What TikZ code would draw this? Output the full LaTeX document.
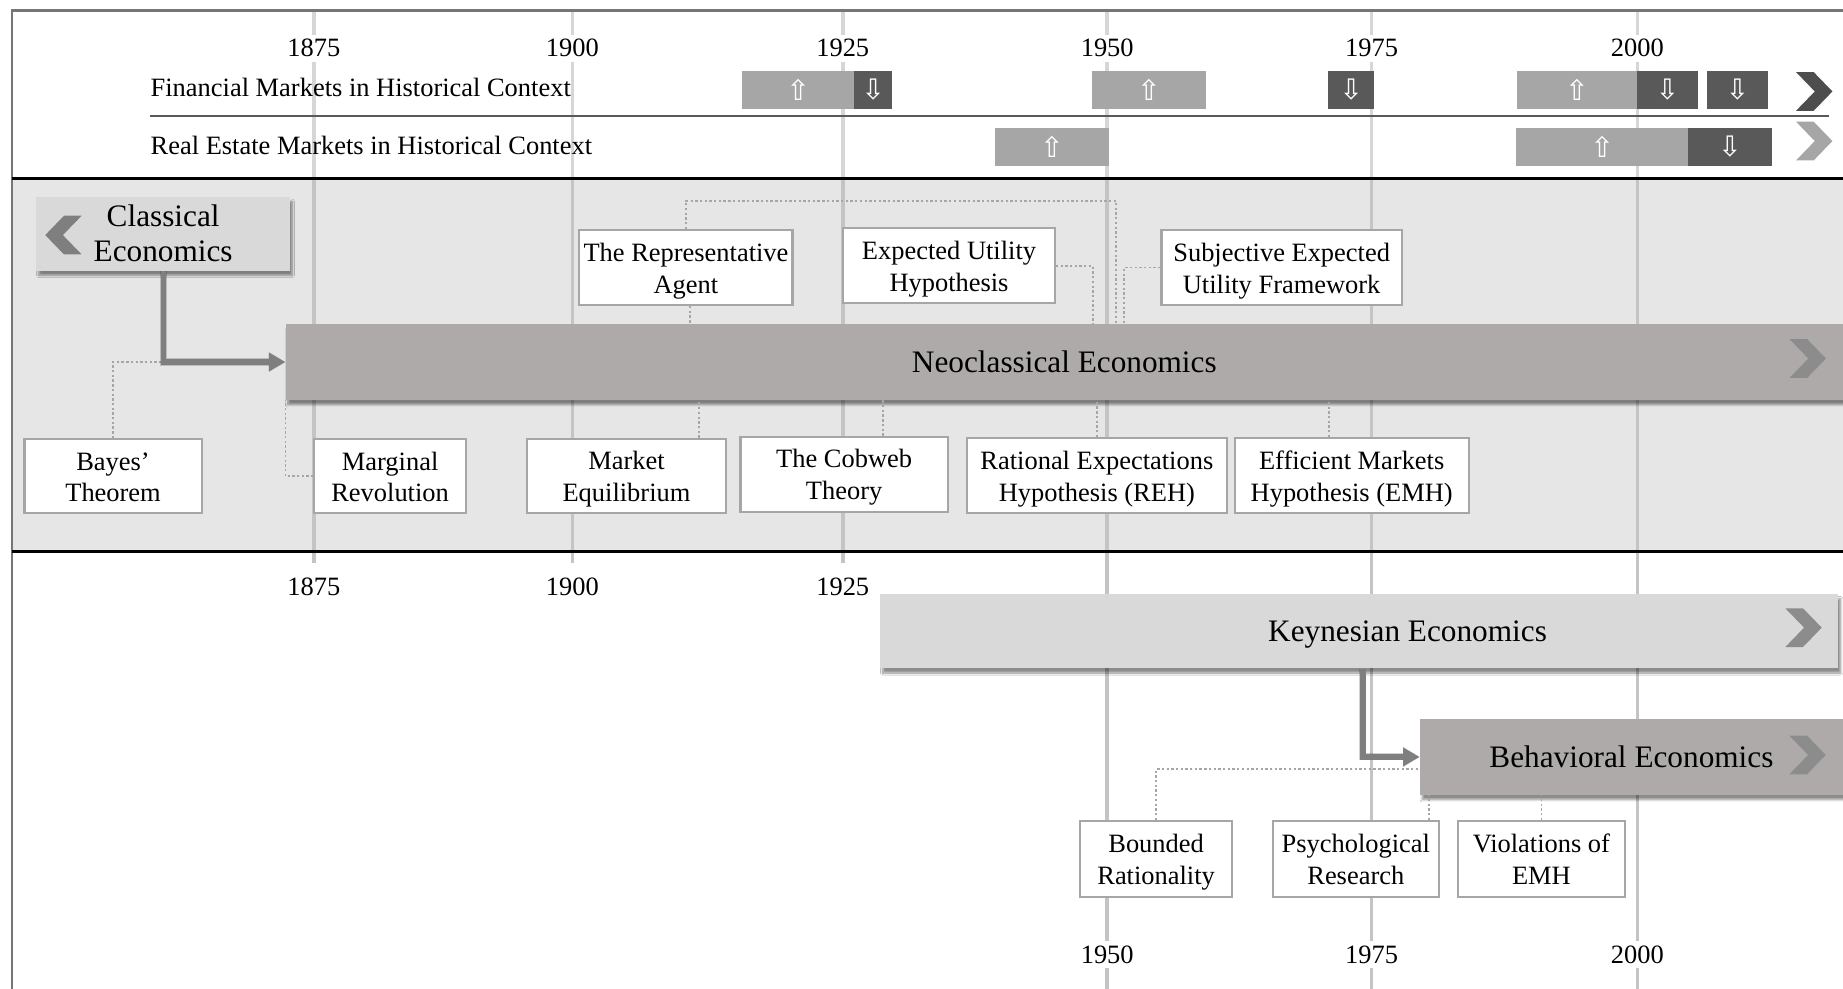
\documentclass[tikz,border=0pt]{standalone}
\usepackage{fontspec}
\setmainfont{Liberation Serif}
\newfontfamily\symfont{DejaVu Sans}
\usetikzlibrary{shadows.blur,arrows.meta}

\definecolor{bandgray}{HTML}{E7E6E6}
\definecolor{neogray}{HTML}{AEAAAA}
\definecolor{lightbox}{HTML}{D9D9D9}
\definecolor{uppart}{HTML}{A6A6A6}
\definecolor{downpart}{HTML}{595959}
\definecolor{edgegray}{HTML}{A6A6A6}
\definecolor{gridtop}{HTML}{D6D6D6}
\definecolor{gridmid}{HTML}{C4C4C4}
\definecolor{arrowgray}{HTML}{7F7F7F}
\definecolor{chevdark}{HTML}{4D4D4D}
\definecolor{chevmid}{HTML}{8C8C8C}
\definecolor{framegray}{HTML}{767676}

\tikzset{
  txtsmall/.style={font=\fontsize{22.5}{27}\selectfont},
  txtbig/.style={font=\fontsize{26.6}{30}\selectfont},
  concept/.style={draw=edgegray, line width=1.8pt, fill=white, inner sep=0pt,
    align=center, txtsmall, text height=48.5pt, text depth=5pt},
  softshadow/.style={blur shadow={shadow xshift=2pt, shadow yshift=-4pt,
    shadow blur steps=8, shadow opacity=45}},
  era/.style={inner sep=0pt, align=center, txtbig, softshadow},
  seg/.style={inner sep=0pt, minimum height=32pt, text=white,
    font={\symfont\fontsize{24}{24}\selectfont}},
  upseg/.style={seg, fill=uppart},
  downseg/.style={seg, fill=downpart},
  link/.style={draw=edgegray, line width=1.5pt, dash pattern=on 2pt off 2pt},
  flow/.style={draw=arrowgray, line width=4.5pt,
    -{Triangle[length=14pt, width=15pt]}},
  flowshade/.style={draw=black, opacity=0.18, line width=6pt,
    -{Triangle[length=14pt, width=16pt]}},
  yearlab/.style={txtsmall, fill=white, inner sep=4pt},
  chev/.pic={\path[pic actions] (-15.5,-16.5) -- (-0.5,-16.5) -- (15.5,0)
    -- (-0.5,16.5) -- (-15.5,16.5) -- (0.5,0) -- cycle;}
}

\begin{document}
\begin{tikzpicture}[x=1pt,y=-1pt]
\useasboundingbox (0,0) rectangle (1568,841);
\clip (0,0) rectangle (1568,841);
\fill[white] (0,0) rectangle (1568,841);
\fill[bandgray] (10,152) rectangle (1568,469);

% year grid
\foreach \gx in {267,487,717,942,1167,1393} {
  \draw[gridtop, line width=3pt] (\gx,9) -- (\gx,152);
  \draw[gridmid, line width=3pt] (\gx,152) -- (\gx,469);
}
\foreach \gx in {267,487,717} \draw[gridmid, line width=3pt] (\gx,469) -- (\gx,479);
\foreach \gx in {942,1167,1393} \draw[gridmid, line width=3pt] (\gx,469) -- (\gx,841);

% frame and band separators
\draw[framegray, line width=2pt] (1568,9) -- (10,9) -- (10,841);
\draw[black, line width=2.5pt] (10,152) -- (1568,152);
\draw[black, line width=2.5pt] (10,469) -- (1568,469);

% year labels
\foreach \gx/\yr in {267/1875,487/1900,717/1925,942/1950,1167/1975,1393/2000}
  \node[yearlab] (top\yr) at (\gx,41) {\yr};
\foreach \gx/\yr in {267/1875,487/1900,717/1925}
  \node[yearlab] (mid\yr) at (\gx,499) {\yr};
\foreach \gx/\yr in {942/1950,1167/1975,1393/2000}
  \node[yearlab] (bot\yr) at (\gx,812) {\yr};

% market context rows
\node[txtsmall, anchor=west, inner sep=0pt] (fin) at (128,74) {Financial Markets in Historical Context};
\node[txtsmall, anchor=west, inner sep=0pt] (re) at (128,124) {Real Estate Markets in Historical Context};
\draw[downpart, line width=1.5pt] (128,99) -- (1556,99);

\node[upseg, minimum width=96pt] (f1a) at (679,76.5) {⇧};
\node[downseg, minimum width=31.7pt] (f1b) at (742.8,76.5) {⇩};
\node[upseg, minimum width=97pt] (f2) at (977.5,76.5) {⇧};
\node[downseg, minimum width=39pt] (f3) at (1149.5,76.5) {⇩};
\node[upseg, minimum width=102.2pt] (f4a) at (1341.7,76.5) {⇧};
\node[downseg, minimum width=51.7pt] (f4b) at (1418.6,76.5) {⇩};
\node[downseg, minimum width=52.1pt] (f5) at (1478.1,76.5) {⇩};

\node[upseg, minimum width=97pt] (r1) at (895,125) {⇧};
\node[upseg, minimum width=146pt] (r2a) at (1363,125) {⇧};
\node[downseg, minimum width=71.7pt] (r2b) at (1471.8,125) {⇩};

\pic[fill=chevdark, softshadow] at (1543.5,77.8) {chev};
\pic[fill=uppart, softshadow] at (1543.5,120) {chev};

% schools of thought
\node[era, fill=lightbox, minimum width=215.6pt, minimum height=63pt] (cls) at (138.8,198.8) {Classical\\Economics};
\pic[fill=arrowgray, xscale=-1, softshadow] at (54,200) {chev};

\node[era, fill=neogray, minimum width=1325pt, minimum height=64.6pt] (neo) at (905.5,308) {Neoclassical Economics};
\pic[fill=chevmid, softshadow] at (1538,305) {chev};

\node[era, fill=lightbox, minimum width=815pt, minimum height=63.2pt] (kbar) at (1156.5,537) {};
\node[txtbig, inner sep=0pt] (ktext) at (1197.5,540) {Keynesian Economics};
\pic[fill=chevmid, softshadow] at (1534.4,534) {chev};

\node[era, fill=neogray, minimum width=360pt, minimum height=64.7pt] (beh) at (1388,644) {Behavioral Economics};
\pic[fill=chevmid, softshadow] at (1537.8,642.3) {chev};

% concepts
\node[concept, minimum width=181.3pt, minimum height=63.8pt] (rep) at (583.6,227.6) {The Representative\\Agent};
\node[concept, minimum width=180pt, minimum height=63.8pt] (eu) at (807.4,226.2) {Expected Utility\\Hypothesis};
\node[concept, minimum width=204.4pt, minimum height=63.8pt] (seu) at (1090.4,227.6) {Subjective Expected\\Utility Framework};

\node[concept, minimum width=150.7pt, minimum height=62.9pt] (bayes) at (96.2,405.2) {Bayes’\\Theorem};
\node[concept, minimum width=128.8pt, minimum height=62.9pt] (marg) at (331.9,405.2) {Marginal\\Revolution};
\node[concept, minimum width=169pt, minimum height=63.5pt] (market) at (533,405) {Market\\Equilibrium};
\node[concept, minimum width=176.5pt, minimum height=63.8pt] (cob) at (718.2,403.4) {The Cobweb\\Theory};
\node[concept, minimum width=221pt, minimum height=64pt] (reh) at (933.2,404.7) {Rational Expectations\\Hypothesis (REH)};
\node[concept, minimum width=199pt, minimum height=64pt] (emh) at (1150,404.8) {Efficient Markets\\Hypothesis (EMH)};

\node[concept, minimum width=128.8pt, minimum height=64.4pt] (bnd) at (983.6,730.7) {Bounded\\Rationality};
\node[concept, minimum width=141pt, minimum height=64.4pt] (psy) at (1153.5,730.7) {Psychological\\Research};
\node[concept, minimum width=141.8pt, minimum height=64.4pt] (vio) at (1311.4,730.7) {Violations of\\EMH};

% dotted links
\coordinate (mk) at ([xshift=61.6pt]market.north);
\coordinate (cw) at ([xshift=33pt]cob.north);
\coordinate (ek) at ([xshift=-19.2pt]emh.north);
\coordinate (ra) at ([xshift=3.4pt]rep.south);
\coordinate (rt) at (949.5,170.7);
\coordinate (eux) at (929.6,0);
\coordinate (sux) at (956.5,0);
\coordinate (bd) at ([yshift=-10.5pt]beh.west);
\coordinate (ps) at ([xshift=62.5pt]psy.north);
\coordinate (ks) at ([xshift=3pt]kbar.south);

\draw[link] (bayes.north) |- (neo.west);
\draw[link] (marg.west) -| (neo.south west);
\draw[link] (mk) -- (mk |- neo.south);
\draw[link] (cw) -- (cw |- neo.south);
\draw[link] (reh.north) -- (reh.north |- neo.south);
\draw[link] (ek) -- (ek |- neo.south);
\draw[link] (rep.north) |- (rt) -- (rt |- neo.north);
\draw[link] (ra) -- (ra |- neo.north);
\draw[link] (eu.east) -| (eux |- neo.north);
\draw[link] (seu.west) -| (sux |- neo.north);
\draw[link] (bnd.north) |- (bd);
\draw[link] (ps) -- (ps |- beh.south);
\draw[link] (vio.north) -- (vio.north |- beh.south);

% succession arrows
\begin{scope}[shift={(2,3.5)}]
  \draw[flowshade] (cls.south) |- (neo.west);
  \draw[flowshade] (ks) |- (beh.west);
\end{scope}
\draw[flow] (cls.south) |- (neo.west);
\draw[flow] (ks) |- (beh.west);
\end{tikzpicture}
\end{document}
